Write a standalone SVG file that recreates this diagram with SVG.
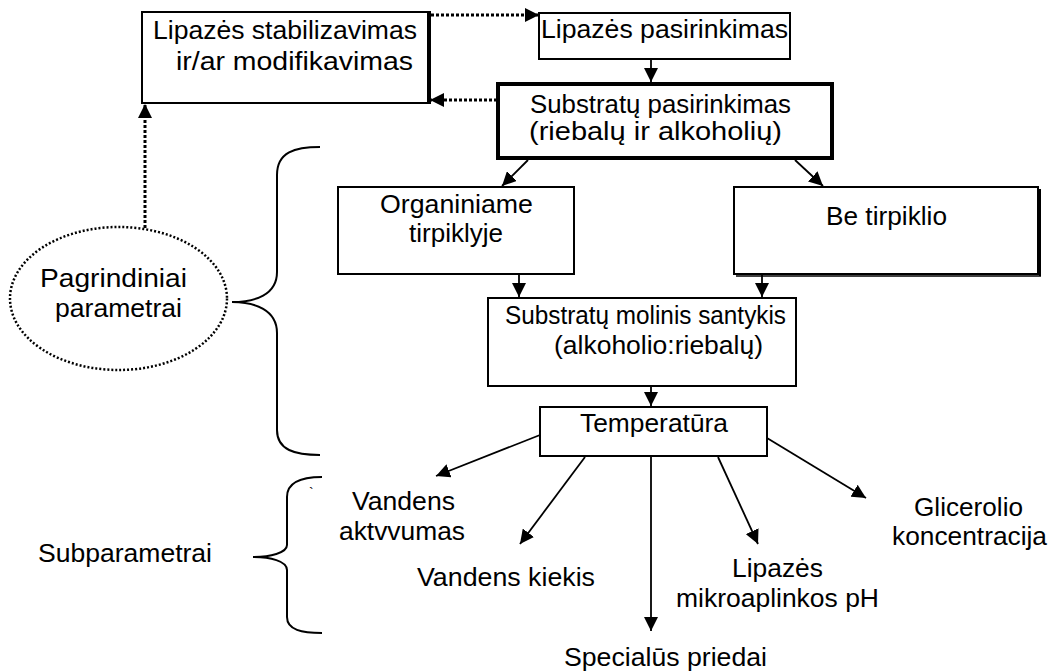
<svg xmlns="http://www.w3.org/2000/svg" width="1049" height="672" viewBox="0 0 1049 672">
<style>
  .box { fill: #fff; stroke: #000; stroke-width: 2; }
  .thick { fill: #fff; stroke: #000; stroke-width: 4; }
  .t { font-family: "Liberation Sans", Arial, sans-serif; font-size: 25px; fill: #000; }
  .big { font-size: 26px; }
  .conn { fill: none; stroke: #000; stroke-width: 1.8; }
  .dot { fill: none; stroke: #000; stroke-width: 3; stroke-dasharray: 3 2; }
  .brace { fill: none; stroke: #000; stroke-width: 2; }
</style>
<defs>
  <marker id="ah" markerUnits="userSpaceOnUse" markerWidth="14" markerHeight="14" viewBox="0 0 14 14" refX="14" refY="7" orient="auto">
    <path d="M0,0 L14,7 L0,14 z" fill="#000"/>
  </marker>
</defs>
<rect width="1049" height="672" fill="#fff"/>

<g id="connectors">
  <line class="dot" x1="431" y1="15" x2="539" y2="15" marker-end="url(#ah)"/>
  <line class="dot" x1="497" y1="100" x2="430" y2="100" marker-end="url(#ah)"/>
  <line class="dot" x1="145" y1="228" x2="145" y2="104" marker-end="url(#ah)"/>
  <line class="conn" x1="651" y1="60" x2="651" y2="82" marker-end="url(#ah)"/>
  <line class="conn" x1="528" y1="160" x2="502" y2="186" marker-end="url(#ah)"/>
  <line class="conn" x1="795" y1="160" x2="823" y2="186" marker-end="url(#ah)"/>
  <line class="conn" x1="519" y1="275" x2="519" y2="297" marker-end="url(#ah)"/>
  <line class="conn" x1="762" y1="275" x2="762" y2="297" marker-end="url(#ah)"/>
  <line class="conn" x1="651" y1="387" x2="651" y2="406" marker-end="url(#ah)"/>
  <line class="conn" x1="540" y1="435" x2="436" y2="476" marker-end="url(#ah)"/>
  <line class="conn" x1="585" y1="457" x2="520" y2="544" marker-end="url(#ah)"/>
  <line class="conn" x1="651" y1="457" x2="651" y2="631" marker-end="url(#ah)"/>
  <line class="conn" x1="718" y1="457" x2="758" y2="544" marker-end="url(#ah)"/>
  <line class="conn" x1="767" y1="438" x2="866" y2="498" marker-end="url(#ah)"/>
</g>

<g id="stabilizavimas">
  <rect class="box" x="142" y="12" width="286" height="91"/>
  <line x1="429" y1="11" x2="429" y2="104" stroke="#000" stroke-width="4"/>
  <text class="t" x="153" y="39" textLength="264" lengthAdjust="spacingAndGlyphs">Lipazės stabilizavimas</text>
  <text class="t" x="176" y="70" textLength="237" lengthAdjust="spacingAndGlyphs">ir/ar modifikavimas</text>
</g>

<g id="lipazes-pasirinkimas">
  <rect class="box" x="539" y="13" width="251" height="46"/>
  <text class="t" x="541" y="38" textLength="247" lengthAdjust="spacingAndGlyphs">Lipazės pasirinkimas</text>
</g>

<g id="substratu-pasirinkimas">
  <rect class="thick" x="498" y="84" width="334" height="74"/>
  <text class="t" x="530" y="113" textLength="261" lengthAdjust="spacingAndGlyphs">Substratų pasirinkimas</text>
  <text class="t" x="529" y="140" textLength="253" lengthAdjust="spacingAndGlyphs">(riebalų ir alkoholių)</text>
</g>

<g id="organiniame">
  <rect class="box" x="338" y="187" width="236" height="87"/>
  <text class="t" x="380" y="213" textLength="153" lengthAdjust="spacingAndGlyphs">Organiniame</text>
  <text class="t" x="409" y="242" textLength="94" lengthAdjust="spacingAndGlyphs">tirpiklyje</text>
</g>

<g id="be-tirpiklio">
  <rect class="box" x="734" y="187" width="304" height="87"/>
  <line x1="1040" y1="189" x2="1040" y2="276" stroke="#000" stroke-width="2"/>
  <line x1="736" y1="276" x2="1041" y2="276" stroke="#000" stroke-width="1.5"/>
  <text class="t" x="826" y="225" textLength="121" lengthAdjust="spacingAndGlyphs">Be tirpiklio</text>
</g>

<g id="molinis-santykis">
  <rect class="box" x="488" y="298" width="308" height="88"/>
  <text class="t" x="505" y="324" textLength="281" lengthAdjust="spacingAndGlyphs">Substratų molinis santykis</text>
  <text class="t" x="554" y="354" textLength="209" lengthAdjust="spacingAndGlyphs">(alkoholio:riebalų)</text>
</g>

<g id="temperatura">
  <rect class="box" x="540" y="407" width="227" height="49"/>
  <text class="t" x="580" y="432" textLength="148" lengthAdjust="spacingAndGlyphs">Temperatūra</text>
</g>

<g id="pagrindiniai">
  <ellipse cx="118.5" cy="298.5" rx="108.5" ry="71.5" fill="none" stroke="#000" stroke-width="2.5" stroke-dasharray="2 2"/>
  <text class="t big" x="40" y="287" textLength="147" lengthAdjust="spacingAndGlyphs">Pagrindiniai</text>
  <text class="t big" x="55" y="317" textLength="127" lengthAdjust="spacingAndGlyphs">parametrai</text>
</g>

<g id="brace-pagrindiniai">
  <path class="brace" d="M320,147 C295,147 277,152 277,175 L277,272 C277,295 255,302 232,302 C255,302 277,310 277,333 L277,430 C277,450 295,455 320,455"/>
</g>

<g id="subparametrai">
  <text class="t big" x="38" y="562" textLength="174" lengthAdjust="spacingAndGlyphs">Subparametrai</text>
  <path class="brace" d="M322,477 C302,477 287,482 287,497 L287,545 C287,553 270,557 253,557 C270,557 287,561 287,570 L287,617 C287,630 302,633 322,633"/>
  <text class="t" x="309" y="498" style="font-size:14px">`</text>
</g>

<g id="vandens-aktyvumas">
  <text class="t" x="352" y="510" textLength="103" lengthAdjust="spacingAndGlyphs">Vandens</text>
  <text class="t" x="339" y="540" textLength="126" lengthAdjust="spacingAndGlyphs">aktvvumas</text>
</g>

<g id="vandens-kiekis">
  <text class="t" x="417" y="586" textLength="178" lengthAdjust="spacingAndGlyphs">Vandens kiekis</text>
</g>

<g id="specialus-priedai">
  <text class="t" x="564" y="666" textLength="203" lengthAdjust="spacingAndGlyphs">Specialūs priedai</text>
</g>

<g id="mikroaplinkos-ph">
  <text class="t" x="732" y="577" textLength="91" lengthAdjust="spacingAndGlyphs">Lipazės</text>
  <text class="t" x="676" y="607" textLength="203" lengthAdjust="spacingAndGlyphs">mikroaplinkos pH</text>
</g>

<g id="glicerolio">
  <text class="t" x="914" y="516" textLength="109" lengthAdjust="spacingAndGlyphs">Glicerolio</text>
  <text class="t" x="892" y="545" textLength="155" lengthAdjust="spacingAndGlyphs">koncentracija</text>
</g>
</svg>
